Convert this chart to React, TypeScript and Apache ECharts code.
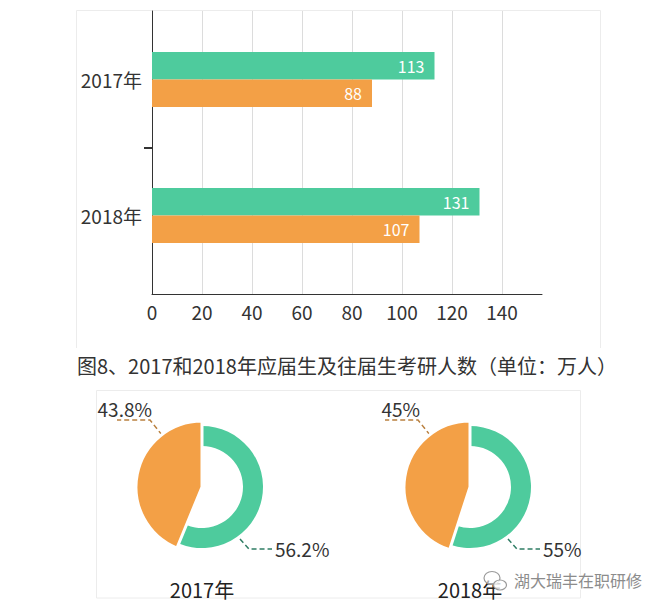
import React, { useEffect, useRef } from 'react';
import * as echarts from 'echarts';

// ---------- data ----------
const CATEGORIES = ['2017年', '2018年'];
const FRESH_GRADUATES = [113, 131]; // 应届生（万人）
const PREVIOUS_GRADUATES = [88, 107]; // 往届生（万人）
const X_MIN = 0;
const X_MAX = 156;
const X_INTERVAL = 20;

const PIE_TITLES = ['2017年', '2018年'];
const PIE_FRESH_SHARE = [56.2, 55];
const PIE_PREVIOUS_SHARE = [43.8, 45];

const CAPTION = '图8、2017和2018年应届生及往届生考研人数（单位：万人）';
const WATERMARK = '湖大瑞丰在职研修';

// ---------- style ----------
const GREEN = '#4ecb9d';
const ORANGE = '#f3a046';
const TEXT = '#333333';
const FONT = '"Noto Sans CJK SC", "Noto Sans", sans-serif';

export default function App() {
  const ref = useRef<HTMLDivElement>(null);

  useEffect(() => {
    if (!ref.current) return;
    const chart = echarts.init(ref.current, null, { renderer: 'svg' });

    const pieCenters = [
      [202, 487],
      [470, 487],
    ];

    const pieSeries: any[] = [];
    const pieCaptions: any[] = [];
    pieCenters.forEach((c, i) => {
      const cx = c[0];
      const cy = c[1];
      // ring (应届生)
      pieSeries.push({
        type: 'pie',
        center: [cx, cy],
        radius: [41, 61],
        startAngle: 90,
        clockwise: true,
        avoidLabelOverlap: false,
        silent: true,
        label: {
          show: true,
          position: 'outside',
          formatter: '{c}%',
          fontSize: 19,
          color: TEXT,
          fontFamily: FONT,
        },
        labelLine: {
          show: true,
          lineStyle: { color: '#2f7d64', type: [5, 3], width: 1.5 },
        },
        labelLayout: (p: any) =>
          p.dataIndex === 0
            ? {
                x: cx + 73,
                y: cy + 61,
                align: 'left',
                verticalAlign: 'middle',
                labelLinePoints: [
                  [cx + 38, cy + 52],
                  [cx + 47, cy + 62],
                  [cx + 70, cy + 62],
                ],
              }
            : {},
        data: [
          { name: '应届生', value: PIE_FRESH_SHARE[i], itemStyle: { color: GREEN } },
          {
            name: '往届生',
            value: PIE_PREVIOUS_SHARE[i],
            itemStyle: { color: 'rgba(0,0,0,0)' },
            label: { show: false },
            labelLine: { show: false },
          },
        ],
      });
      // full pie (往届生)
      pieSeries.push({
        type: 'pie',
        center: [cx, cy],
        radius: [0, 66],
        startAngle: 90,
        clockwise: true,
        avoidLabelOverlap: false,
        silent: true,
        label: {
          show: true,
          position: 'outside',
          formatter: '{c}%',
          fontSize: 19,
          color: TEXT,
          fontFamily: FONT,
        },
        labelLine: {
          show: true,
          lineStyle: { color: '#b9803f', type: [5, 3], width: 1.5 },
        },
        labelLayout: (p: any) =>
          p.dataIndex === 1
            ? {
                x: cx - 50,
                y: cy - 69,
                align: 'right',
                verticalAlign: 'bottom',
                labelLinePoints: [
                  [cx - 40, cy - 52],
                  [cx - 52, cy - 67],
                  [cx - 85, cy - 67],
                ],
              }
            : {},
        data: [
          {
            name: '应届生',
            value: PIE_FRESH_SHARE[i],
            itemStyle: { color: 'rgba(0,0,0,0)' },
            label: { show: false },
            labelLine: { show: false },
          },
          {
            name: '往届生',
            value: PIE_PREVIOUS_SHARE[i],
            itemStyle: { color: ORANGE, borderColor: '#ffffff', borderWidth: 3 },
          },
        ],
      });
      pieCaptions.push({
        type: 'text',
        x: cx,
        y: 589,
        style: {
          text: PIE_TITLES[i],
          fontSize: 20,
          fontFamily: FONT,
          fill: '#222',
          align: 'center',
          textAlign: 'center',
          verticalAlign: 'middle',
          textVerticalAlign: 'middle',
        },
      });
    });

    const barLabel = {
      show: true,
      position: 'insideRight',
      distance: 10,
      color: '#ffffff',
      fontSize: 16,
      fontFamily: FONT,
    };

    const option: any = {
      animation: false,
      backgroundColor: '#ffffff',
      textStyle: { fontFamily: FONT },
      grid: [
        { left: 152, top: 11.5, width: 390, height: 272, outerBoundsMode: 'none' },
        { left: 152, top: 11, width: 390, height: 283, outerBoundsMode: 'none' },
        { left: 152, top: 147, width: 1, height: 1, outerBoundsMode: 'none' },
      ],
      xAxis: [
        { gridIndex: 0, type: 'value', min: X_MIN, max: X_MAX, show: false },
        {
          gridIndex: 1,
          type: 'value',
          min: X_MIN,
          max: X_MAX,
          interval: X_INTERVAL,
          axisLine: { show: true, lineStyle: { color: TEXT, width: 1 } },
          axisTick: { show: false },
          axisLabel: {
            fontSize: 19,
            color: TEXT,
            margin: 8,
            fontFamily: FONT,
            showMaxLabel: false,
          },
          splitLine: {
            show: true,
            showMinLine: false,
            showMaxLine: false,
            lineStyle: { color: '#dcdcdc', width: 1 },
          },
        },
        { gridIndex: 2, type: 'value', show: false },
      ],
      yAxis: [
        {
          gridIndex: 0,
          type: 'category',
          data: CATEGORIES,
          inverse: true,
          axisLine: { show: false },
          axisTick: { show: false },
          axisLabel: { fontSize: 19, color: TEXT, margin: 10, fontFamily: FONT },
        },
        {
          gridIndex: 1,
          type: 'category',
          data: CATEGORIES,
          inverse: true,
          axisLine: { show: true, lineStyle: { color: TEXT, width: 1 } },
          axisTick: { show: false },
          axisLabel: { show: false },
        },
        {
          gridIndex: 2,
          type: 'category',
          data: [''],
          axisLine: { show: false },
          axisTick: { show: true, length: 8, lineStyle: { color: TEXT, width: 1 } },
          axisLabel: { show: false },
        },
      ],
      series: [
        {
          name: '应届生',
          type: 'bar',
          xAxisIndex: 0,
          yAxisIndex: 0,
          data: FRESH_GRADUATES,
          barWidth: 27.5,
          barGap: '0%',
          itemStyle: { color: GREEN },
          label: barLabel,
          silent: true,
        },
        {
          name: '往届生',
          type: 'bar',
          xAxisIndex: 0,
          yAxisIndex: 0,
          data: PREVIOUS_GRADUATES,
          barWidth: 27.5,
          barGap: '0%',
          itemStyle: { color: ORANGE },
          label: barLabel,
          silent: true,
        },
        ...pieSeries,
      ],
      graphic: [
        {
          type: 'polyline',
          silent: true,
          shape: {
            points: [
              [76.5, 348],
              [76.5, 10.5],
              [600.5, 10.5],
              [600.5, 348],
            ],
          },
          style: { stroke: '#ececec', fill: 'none', lineWidth: 1 },
        },
        {
          type: 'rect',
          silent: true,
          shape: { x: 96.5, y: 390.5, width: 484, height: 207.5 },
          style: { stroke: '#ececec', fill: 'none', lineWidth: 1 },
        },
        {
          type: 'text',
          x: 77,
          y: 365,
          style: {
            text: CAPTION,
            fontSize: 20,
            fontFamily: FONT,
            fill: TEXT,
            align: 'left',
            textAlign: 'left',
            verticalAlign: 'middle',
            textVerticalAlign: 'middle',
          },
        },
        ...pieCaptions,
        {
          type: 'ellipse',
          silent: true,
          shape: { cx: 492, cy: 578, rx: 8, ry: 6.5 },
          style: { stroke: '#9a9a9a', fill: 'rgba(255,255,255,0.6)', lineWidth: 1.2 },
        },
        {
          type: 'ellipse',
          silent: true,
          shape: { cx: 500, cy: 585, rx: 6.5, ry: 5 },
          style: { stroke: '#9a9a9a', fill: 'rgba(255,255,255,0.8)', lineWidth: 1.2 },
        },
        {
          type: 'text',
          x: 514,
          y: 580,
          style: {
            text: WATERMARK,
            fontSize: 16,
            fontFamily: FONT,
            fill: '#8c8c8c',
            stroke: '#ffffff',
            lineWidth: 2,
            align: 'left',
            textAlign: 'left',
            verticalAlign: 'middle',
            textVerticalAlign: 'middle',
          },
        },
      ],
    };

    chart.setOption(option);
    return () => {
      chart.dispose();
    };
  }, []);

  return (
    <div
      ref={ref}
      style={{ position: 'absolute', left: 0, top: 0, width: 663, height: 610, background: '#fff' }}
    />
  );
}
